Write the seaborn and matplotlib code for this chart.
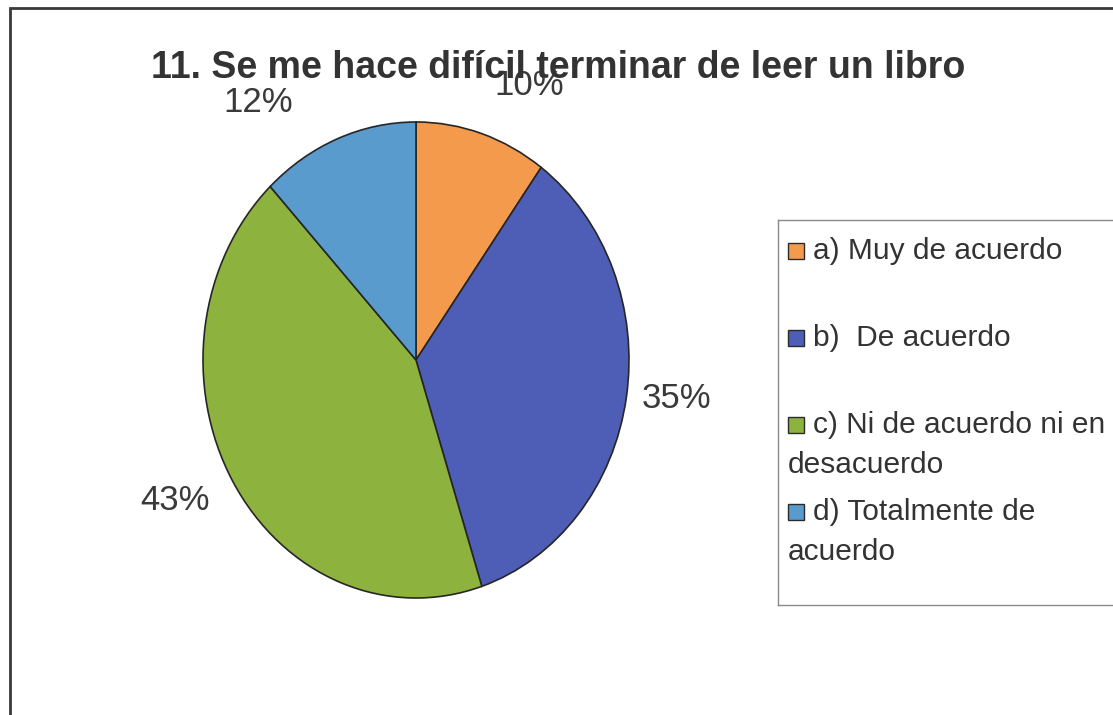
import matplotlib
matplotlib.use("Agg")
import matplotlib.pyplot as plt
import seaborn as sns
from matplotlib.patches import Rectangle

# datos de la encuesta
title = "11. Se me hace difícil terminar de leer un libro"
categories = ["a) Muy de acuerdo", "b)  De acuerdo",
              "c) Ni de acuerdo ni en desacuerdo", "d) Totalmente de acuerdo"]
legend_lines = [["a) Muy de acuerdo"], ["b)  De acuerdo"],
                ["c) Ni de acuerdo ni en", "desacuerdo"],
                ["d) Totalmente de", "acuerdo"]]
percentages = [10, 35, 43, 12]

colors = sns.color_palette(["#F39A4C", "#4E5DB6", "#8DB33E", "#5A9BCD"])

sns.set_theme(style="white")
plt.rcParams['font.family'] = ['Liberation Sans', 'DejaVu Sans']

W, H = 1113, 715
fig = plt.figure(figsize=(W / 100, H / 100), dpi=100)
fig.patch.set_facecolor("white")

# pastel (ligeramente eliptico como en el original)
cx, cy = 416, 715 - 360
rx, ry = 213, 238
lim = 1.4
ax = fig.add_axes([(cx - lim * rx) / W, (cy - lim * ry) / H,
                   2 * lim * rx / W, 2 * lim * ry / H])
wedges, texts = ax.pie(
    percentages,
    colors=colors,
    labels=[f"{p}%" for p in percentages],
    startangle=90,
    counterclock=False,
    labeldistance=1.15,
    wedgeprops=dict(edgecolor="#262626", linewidth=1.2),
    textprops=dict(fontsize=25, color="#3a3a3a"),
)
ax.set_aspect("auto")
ax.set_xlim(-lim, lim)
ax.set_ylim(-lim, lim)
ax.axis("off")

# ajuste fino de las etiquetas (px, y hacia abajo)
label_nudge = [(3, -14), (-16, -4), (5, 1), (-33, -3)]
for t, (dx, dy) in zip(texts, label_nudge):
    x, y = t.get_position()
    t.set_position((x + dx / rx, y - dy / ry))

# titulo
fig.text(558 / W, 1 - 78 / H, title, ha="center", va="baseline",
         fontsize=27, fontweight="bold", color="#333333")

# leyenda
lx0, ly0, lx1, ly1 = 778, 220, 1130, 605
lax = fig.add_axes([lx0 / W, (H - ly1) / H, (lx1 - lx0) / W, (ly1 - ly0) / H])
lax.set_xlim(0, lx1 - lx0)
lax.set_ylim(ly1 - ly0, 0)
lax.set_xticks([])
lax.set_yticks([])
for s in lax.spines.values():
    s.set_color("#8a8a8a")
    s.set_linewidth(1.0)

first_y, pitch, wrap = 31, 87, 40
sq = 16
for i, (lines, col) in enumerate(zip(legend_lines, colors)):
    y = first_y + i * pitch
    lax.add_patch(Rectangle((10, y - sq / 2), sq, sq, facecolor=col,
                            edgecolor="#2b2b2b", linewidth=1.0))
    lax.text(35, y, lines[0], va="center", ha="left", fontsize=21.5,
             color="#333333")
    for j, extra in enumerate(lines[1:], start=1):
        lax.text(10, y + j * wrap, extra, va="center", ha="left",
                 fontsize=21.5, color="#333333")

# marco exterior
fig.add_artist(Rectangle((10 / W, -0.1), 1.2, 1 - 8 / H + 0.1,
                         transform=fig.transFigure, fill=False,
                         edgecolor="#3a3a3a", linewidth=2))

fig.savefig("out.png", dpi=100)
